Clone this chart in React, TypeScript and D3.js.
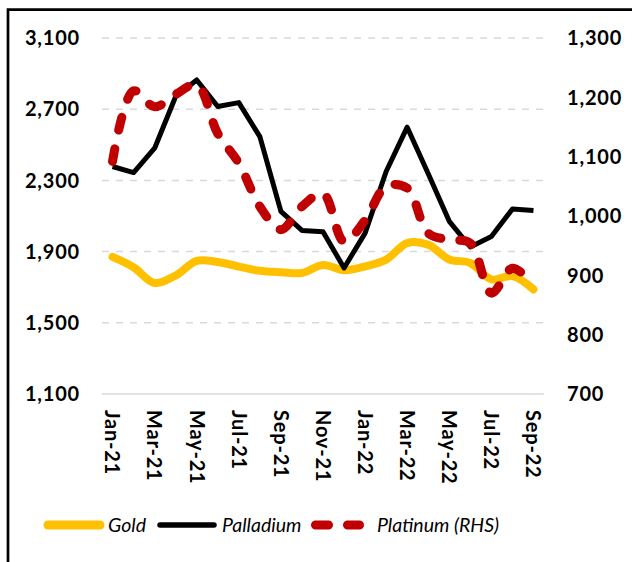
import React from "react";
import * as d3 from "d3";

// monthly averages, US$/oz
const months = [
  "Jan-21", "Feb-21", "Mar-21", "Apr-21", "May-21", "Jun-21", "Jul-21",
  "Aug-21", "Sep-21", "Oct-21", "Nov-21", "Dec-21", "Jan-22", "Feb-22",
  "Mar-22", "Apr-22", "May-22", "Jun-22", "Jul-22", "Aug-22", "Sep-22",
];
const tickLabels = [
  "Jan-21", "Mar-21", "May-21", "Jul-21", "Sep-21", "Nov-21",
  "Jan-22", "Mar-22", "May-22", "Jul-22", "Sep-22",
];
const gold = [
  1870, 1812, 1724, 1766, 1848, 1842, 1816, 1792, 1784, 1780, 1825,
  1795, 1817, 1855, 1948, 1938, 1856, 1836, 1744, 1762, 1688,
];
const palladium = [
  2378, 2344, 2481, 2771, 2864, 2715, 2737, 2546, 2126, 2019, 2012,
  1808, 2004, 2350, 2599, 2337, 2070, 1926, 1985, 2139, 2131,
];
const platinum = [
  1092, 1211, 1184, 1205, 1221, 1139, 1089, 1016, 977, 1016, 1038,
  957, 993, 1050, 1047, 971, 960, 954, 870, 912, 884,
];
const leftTicks = [1100, 1500, 1900, 2300, 2700, 3100];
const rightTicks = [700, 800, 900, 1000, 1100, 1200, 1300];

const W = 632;
const H = 562;
const font = "Lato, 'Open Sans', sans-serif";
const fmt = d3.format(",");

export default function App() {
  const plot = { left: 102, right: 544, top: 38, bottom: 394 };

  const x = d3.scaleBand<string>().domain(months).range([plot.left, plot.right]);
  const cx = (m: string) => (x(m) as number) + x.bandwidth() / 2;
  const yL = d3.scaleLinear().domain([1100, 3100]).range([plot.bottom, plot.top]);
  const yR = d3.scaleLinear().domain([700, 1300]).range([plot.bottom, plot.top]);

  const smooth = (vals: number[], y: d3.ScaleLinear<number, number>) =>
    d3.line<number>()
      .x((_, i) => cx(months[i]))
      .y((d) => y(d))
      .curve(d3.curveCatmullRom.alpha(0.5))(vals) as string;
  const straight = d3.line<number>()
    .x((_, i) => cx(months[i]))
    .y((d) => yL(d))(palladium) as string;

  const axisText = { fontFamily: font, fontWeight: "bold", fontSize: 20, letterSpacing: 0.8, fill: "#000" };

  return (
    <svg width={W} height={H} style={{ position: "absolute", left: 0, top: 0, background: "#fff" }}>
      {/* title sits above the crop, only its brackets peek in */}
      <text x={304} y={-3.5} textAnchor="middle" fontFamily={font} fontSize={16}
        fill="#0070C0" textLength={142}>(US$ per ounce)</text>

      {/* frame */}
      <path d={`M8,${H + 2} V9.7 H${W + 2}`} fill="none" stroke="#000" strokeWidth={2.7} />

      {/* gridlines */}
      {leftTicks.slice(1).map((t) => (
        <line key={t} x1={plot.left} x2={plot.right} y1={yL(t)} y2={yL(t)}
          stroke="#D9D9D9" strokeWidth={1.5} strokeDasharray="7 7" />
      ))}
      <line x1={plot.left} x2={plot.right} y1={plot.bottom} y2={plot.bottom}
        stroke="#D9D9D9" strokeWidth={1.5} />

      {/* left axis */}
      {leftTicks.map((t) => (
        <text key={t} x={80} y={yL(t)} dy="0.36em" textAnchor="end" {...axisText}>{fmt(t)}</text>
      ))}
      {/* right axis */}
      {rightTicks.map((t) => (
        <text key={t} x={567} y={yR(t)} dy="0.36em" textAnchor="start" {...axisText}>{fmt(t)}</text>
      ))}
      {/* x axis */}
      {tickLabels.map((m) => (
        <text key={m} transform={`translate(${cx(m)},${plot.bottom + 16}) rotate(90)`}
          dy="0.36em" textAnchor="start" {...axisText}>{m}</text>
      ))}

      {/* series */}
      <path d={smooth(gold, yL)} fill="none" stroke="#FFC000" strokeWidth={8}
        strokeLinecap="round" strokeLinejoin="round" />
      <path d={straight} fill="none" stroke="#000" strokeWidth={5}
        strokeLinejoin="round" />
      <path d={smooth(platinum, yR)} fill="none" stroke="#C00000" strokeWidth={9}
        strokeLinecap="round" strokeDasharray="13 19" />

      {/* legend */}
      <g fontFamily={font} fontStyle="italic" fontSize={19.5} fill="#000">
        <line x1={48} x2={100} y1={525} y2={525} stroke="#FFC000" strokeWidth={9} strokeLinecap="round" />
        <text x={108} y={525} dy="0.36em">Gold</text>
        <line x1={160} x2={214} y1={525} y2={525} stroke="#000" strokeWidth={5.5} strokeLinecap="round" />
        <text x={222} y={525} dy="0.36em">Palladium</text>
        <line x1={315.5} x2={359.5} y1={525} y2={525} stroke="#C00000" strokeWidth={9}
          strokeLinecap="round" strokeDasharray="13 19" />
        <text x={377} y={525} dy="0.36em">Platinum (RHS)</text>
      </g>
    </svg>
  );
}
